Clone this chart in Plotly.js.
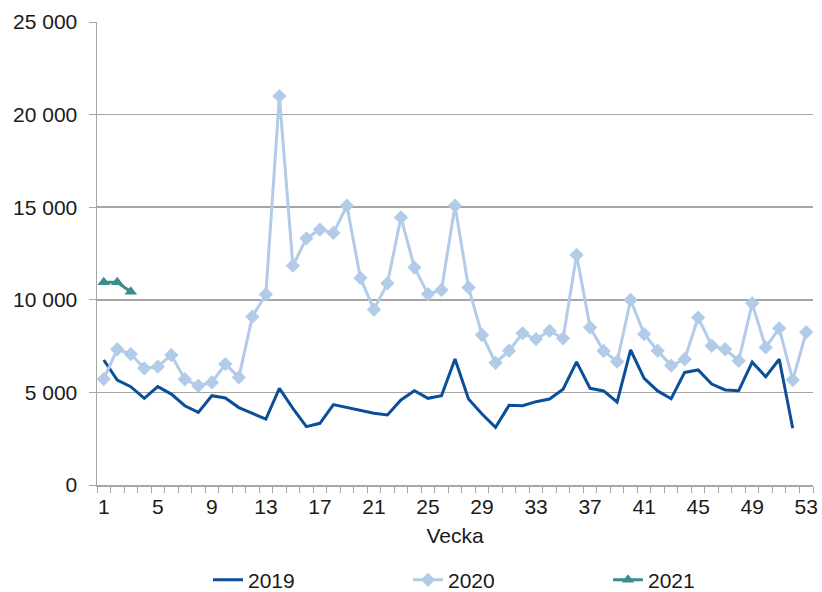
<!DOCTYPE html>
<html>
<head>
<meta charset="utf-8">
<script src="https://cdn.plot.ly/plotly-3.0.1.min.js"></script>
<style>html,body{margin:0;padding:0;background:#fff;}#chart{width:822px;height:592px;}</style>
</head>
<body>
<div id="chart"></div>
<script>
const weeks2019 = [1,2,3,4,5,6,7,8,9,10,11,12,13,14,15,16,17,18,19,20,21,22,23,24,25,26,27,28,29,30,31,32,33,34,35,36,37,38,39,40,41,42,43,44,45,46,47,48,49,50,51,52];
const values2019 = [6750,5670,5310,4680,5310,4910,4280,3920,4820,4700,4180,3870,3560,5220,4140,3150,3330,4340,4180,4040,3870,3780,4590,5090,4680,4820,6800,4640,3830,3110,4300,4280,4500,4640,5170,6650,5220,5080,4480,7290,5760,5080,4660,6080,6210,5450,5130,5090,6630,5850,6790,3060];
const weeks2020 = [1,2,3,4,5,6,7,8,9,10,11,12,13,14,15,16,17,18,19,20,21,22,23,24,25,26,27,28,29,30,31,32,33,34,35,36,37,38,39,40,41,42,43,44,45,46,47,48,49,50,51,52,53];
const values2020 = [5720,7330,7070,6300,6390,7020,5710,5360,5540,6530,5810,9090,10290,21000,11840,13320,13790,13610,15080,11180,9470,10890,14450,11740,10310,10530,15080,10670,8100,6600,7250,8190,7880,8320,7920,12420,8510,7240,6660,9990,8150,7250,6450,6790,9040,7520,7330,6710,9810,7430,8460,5670,8250];
const weeks2021 = [1,2,3];
const values2021 = [10950,10950,10430];
const xTickVals = [1,5,9,13,17,21,25,29,33,37,41,45,49,53];

const traces = [
  {x: weeks2019, y: values2019, name: '2019', type: 'scatter', mode: 'lines',
   line: {color: '#0B4F9A', width: 3}},
  {x: weeks2020, y: values2020, name: '2020', type: 'scatter', mode: 'lines+markers',
   line: {color: '#B1CBE9', width: 3}, marker: {symbol: 'diamond', size: 11, color: '#B1CBE9'}},
  {x: weeks2021, y: values2021, name: '2021', type: 'scatter', mode: 'lines+markers',
   line: {color: '#3A8C8E', width: 3}, marker: {symbol: 'triangle-up', size: 11, color: '#3A8C8E'}}
];

const layout = {
  width: 822, height: 592,
  margin: {l: 97, r: 9, t: 22, b: 107},
  paper_bgcolor: '#fff', plot_bgcolor: '#fff',
  font: {family: '"Liberation Sans", Arial, sans-serif', size: 21, color: '#1a1a1a'},
  separators: ', ',
  showlegend: true,
  legend: {orientation: 'h', xref: 'container', yref: 'container', x: 0.253, xanchor: 'left',
           y: 0.02, yanchor: 'middle',
           entrywidth: 155, entrywidthmode: 'pixels', font: {size: 21}, borderwidth: 0,
           itemwidth: 30},
  xaxis: {
    range: [0.5, 53.5], tickmode: 'array', tickvals: xTickVals, ticks: '',
    showgrid: false, zeroline: false, showline: true, linecolor: '#A6A6A6', linewidth: 1.5,
    minor: {ticks: 'outside', tickmode: 'linear', tick0: 0.5, dtick: 1, ticklen: 6, tickcolor: '#A6A6A6', tickwidth: 1, showgrid: false},
    title: {text: 'Vecka', font: {size: 21}, standoff: 11},
    ticklabelstandoff: 2,
    tickfont: {size: 21}
  },
  yaxis: {
    range: [0, 25000], tickmode: 'linear', tick0: 0, dtick: 5000, tickformat: ',d',
    ticks: 'outside', ticklen: 7, tickcolor: '#A6A6A6',
    ticklabelstandoff: 7,
    showgrid: true, gridcolor: '#A6A6A6', gridwidth: 1.5, zeroline: false,
    showline: true, linecolor: '#A6A6A6', linewidth: 1.5,
    tickfont: {size: 21}
  }
};

Plotly.newPlot('chart', traces, layout, {displayModeBar: false, staticPlot: true});
</script>
</body>
</html>
